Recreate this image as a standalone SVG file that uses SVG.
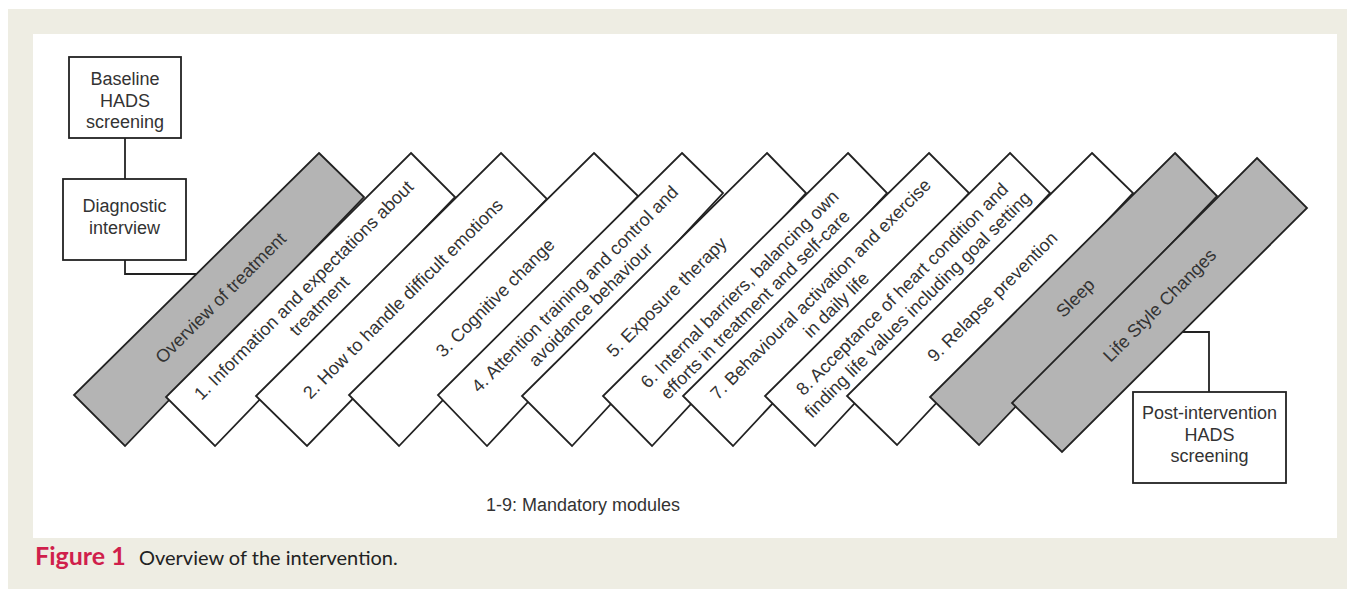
<svg xmlns="http://www.w3.org/2000/svg" width="1347" height="589" viewBox="0 0 1347 589">
<style>
.bg{fill:#eeede3}
.panel{fill:#ffffff}
.box{fill:#ffffff;stroke:#222;stroke-width:1.8}
.mod{fill:#ffffff;stroke:#222;stroke-width:1.8;stroke-linejoin:miter}
.grey{fill:#b4b4b4}
.t{font-family:"Liberation Sans",Arial,sans-serif;font-size:18px;fill:#333;text-anchor:middle}
.conn{fill:none;stroke:#222;stroke-width:1.8}
.cap{font-family:Lato,"Open Sans",sans-serif;font-size:20px;fill:#222}
.capb{font-family:Lato,"Open Sans",sans-serif;font-size:25px;font-weight:bold;fill:#d01f4c}
</style>
<rect width="1347" height="589" fill="#ffffff"/>
<rect class="bg" x="8" y="9" width="1339" height="580"/>
<rect class="panel" x="33" y="34" width="1304" height="504"/>

<g id="connectors">
<polyline class="conn" points="125,138 125,179"/>
<polyline class="conn" points="125,260 125,274 197,274"/>
<polyline class="conn" points="1183,332 1209,332 1209,392"/>
</g>

<g id="baseline">
<rect class="box" x="69" y="57" width="112" height="81"/>
<text class="t" x="125" y="85">Baseline</text>
<text class="t" x="125" y="107">HADS</text>
<text class="t" x="125" y="128">screening</text>
</g>

<g id="diagnostic">
<rect class="box" x="63" y="179" width="123" height="81"/>
<text class="t" x="124.5" y="212">Diagnostic</text>
<text class="t" x="124.5" y="234">interview</text>
</g>

<g id="overview">
<polygon class="mod grey" points="319,153 364,197 125,446 74,395"/>
<text class="t" transform="rotate(-45 220.5 297.75)" x="220.5" y="304">Overview of treatment</text>
</g>

<g id="m1">
<polygon class="mod" points="411,153 455,197 215,446 166,397"/>
<g transform="rotate(-45 311.75 298.25)">
<text class="t" x="311.75" y="293">1. Information and expectations about</text>
<text class="t" x="311.75" y="315">treatment</text>
</g>
</g>

<g id="m2">
<polygon class="mod" points="501,153 547,199 307,446 256,396"/>
<text class="t" transform="rotate(-45 402.75 298.5)" x="402.75" y="305">2. How to handle difficult emotions</text>
</g>

<g id="m3">
<polygon class="mod" points="594,153 638,196 399,446 349,395"/>
<text class="t" transform="rotate(-45 495 297.5)" x="495" y="304">3. Cognitive change</text>
</g>

<g id="m4">
<polygon class="mod" points="682,153 723,193 487,446 438,395"/>
<g transform="rotate(-45 582.5 296.75)">
<text class="t" x="582.5" y="292">4. Attention training and control and</text>
<text class="t" x="582.5" y="314">avoidance behaviour</text>
</g>
</g>

<g id="m5">
<polygon class="mod" points="767,153 806,193 572,446 522,396"/>
<text class="t" transform="rotate(-45 666.75 297)" x="666.75" y="303">5. Exposure therapy</text>
</g>

<g id="m6">
<polygon class="mod" points="848,153 887,193 652,446 603,396"/>
<g transform="rotate(-45 747.5 297)">
<text class="t" x="747.5" y="292">6. Internal barriers, balancing own</text>
<text class="t" x="747.5" y="314">efforts in treatment and self-care</text>
</g>
</g>

<g id="m7">
<polygon class="mod" points="929,153 969,193 733,446 683,396"/>
<g transform="rotate(-45 828.5 297)">
<text class="t" x="828.5" y="292">7. Behavioural activation and exercise</text>
<text class="t" x="828.5" y="314">in daily life</text>
</g>
</g>

<g id="m8">
<polygon class="mod" points="1010,153 1050,193 815,446 765,396"/>
<g transform="rotate(-45 910 297)">
<text class="t" x="910" y="292">8. Acceptance of heart condition and</text>
<text class="t" x="910" y="314">finding life values including goal setting</text>
</g>
</g>

<g id="m9">
<polygon class="mod" points="1092,153 1133,193 897,445 847,396"/>
<text class="t" transform="rotate(-45 992.25 296.75)" x="992.25" y="303">9. Relapse prevention</text>
</g>

<g id="sleep">
<polygon class="mod grey" points="1175,153 1217,196 979,445 930,397"/>
<text class="t" transform="rotate(-45 1075.25 297.75)" x="1075.25" y="304">Sleep</text>
</g>

<g id="lifestyle">
<polygon class="mod grey" points="1257,158 1307,208 1062,452 1012,403"/>
<text class="t" transform="rotate(-45 1159.5 305.25)" x="1159.5" y="311.5">Life Style Changes</text>
</g>

<g id="post">
<rect class="box" x="1133" y="392" width="153" height="91"/>
<text class="t" x="1209.5" y="419">Post-intervention</text>
<text class="t" x="1209.5" y="441">HADS</text>
<text class="t" x="1209.5" y="462">screening</text>
</g>

<g id="legend">
<text class="t" x="583" y="511">1-9: Mandatory modules</text>
</g>

<g id="caption">
<text class="capb" x="35" y="565">Figure 1</text>
<text class="cap" x="139" y="565">Overview of the intervention.</text>
</g>
</svg>
